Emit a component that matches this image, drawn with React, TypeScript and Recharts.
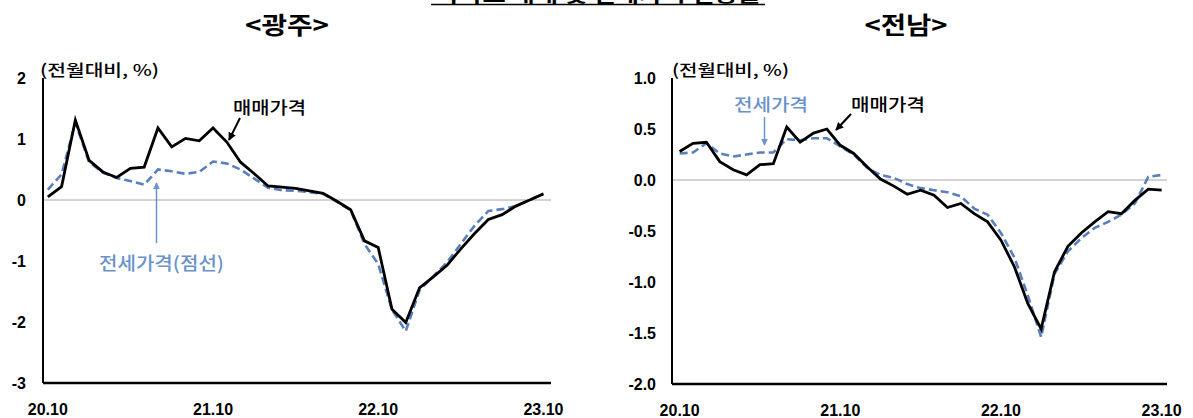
import { LineChart, Line, XAxis, YAxis, ReferenceLine } from 'recharts';

// 20.10 ~ 23.10, monthly
const months = [
  '20.10', '20.11', '20.12', '21.01', '21.02', '21.03', '21.04', '21.05', '21.06', '21.07', '21.08', '21.09',
  '21.10', '21.11', '21.12', '22.01', '22.02', '22.03', '22.04', '22.05', '22.06', '22.07', '22.08', '22.09',
  '22.10', '22.11', '22.12', '23.01', '23.02', '23.03', '23.04', '23.05', '23.06', '23.07', '23.08', '23.09',
  '23.10',
];
const xTicks = [0, 12, 24, 36];

// 광주 (전월대비, %)
const gwangjuSale = [
  0.05, 0.22, 1.31, 0.65, 0.46, 0.37, 0.52, 0.54, 1.18, 0.87, 1.01, 0.97,
  1.18, 0.95, 0.62, 0.43, 0.23, 0.21, 0.19, 0.15, 0.11, -0.02, -0.16, -0.67,
  -0.78, -1.79, -2.01, -1.44, -1.26, -1.07, -0.8, -0.55, -0.32, -0.24, -0.1, 0.0,
  0.1,
];
const gwangjuJeonse = [
  0.17, 0.42, 1.27, 0.62, 0.45, 0.36, 0.31, 0.25, 0.5, 0.47, 0.43, 0.46,
  0.63, 0.6, 0.5, 0.35, 0.2, 0.16, 0.15, 0.13, 0.1, -0.03, -0.17, -0.72,
  -1.05, -1.8, -2.15, -1.48, -1.25, -1.02, -0.72, -0.42, -0.18, -0.15, -0.1, 0.0,
  0.1,
];

// 전남 (전월대비, %)
const jeonnamSale = [
  0.28, 0.36, 0.37, 0.18, 0.1, 0.05, 0.15, 0.16, 0.52, 0.37, 0.46, 0.5,
  0.34, 0.26, 0.13, 0.01, -0.06, -0.14, -0.1, -0.15, -0.27, -0.23, -0.33, -0.41,
  -0.59, -0.85, -1.21, -1.46, -0.9, -0.65, -0.52, -0.41, -0.31, -0.33, -0.2, -0.09,
  -0.1,
];
const jeonnamJeonse = [
  0.26, 0.27, 0.36, 0.26, 0.23, 0.25, 0.27, 0.27, 0.4, 0.39, 0.41, 0.41,
  0.33, 0.25, 0.12, 0.05, 0.02, -0.04, -0.08, -0.1, -0.12, -0.16, -0.28, -0.34,
  -0.52, -0.76, -1.13, -1.54, -0.92, -0.7, -0.57, -0.47, -0.41, -0.34, -0.23, 0.03,
  0.05,
];

const gwangjuTicks = [2, 1, 0, -1, -2, -3];
const jeonnamTicks = [1, 0.5, 0, -0.5, -1, -1.5, -2];

const SALE = '#000000';
const JEONSE = '#5b7fbd';
const NOTE_BLUE = '#6a92cb';
const KR = '"Noto Sans CJK KR", "Noto Sans", sans-serif';
const NUM = '"Liberation Sans", Arial, sans-serif';

function toRows(sale: number[], jeonse: number[]) {
  return months.map((m, i) => ({ i, month: m, sale: sale[i], jeonse: jeonse[i] }));
}

interface PanelProps {
  rows: { i: number; month: string; sale: number; jeonse: number }[];
  width: number;
  margin: { top: number; right: number; bottom: number; left: number };
  xDomain: [number, number];
  yDomain: [number, number];
  yTicks: number[];
  yWidth: number;
  yTickMargin: number;
  fmt: (v: number) => string;
}

function Panel({ rows, width, margin, xDomain, yDomain, yTicks, yWidth, yTickMargin, fmt }: PanelProps) {
  const tickStyle = { fontSize: 16, fontWeight: 700, fill: '#000', fontFamily: NUM };
  const frame = { stroke: '#000', strokeWidth: 2 };
  return (
    <LineChart width={width} height={418} data={rows} margin={margin}>
      <XAxis
        xAxisId="b"
        dataKey="i"
        type="number"
        domain={xDomain}
        allowDataOverflow
        ticks={xTicks}
        interval={0}
        tickFormatter={(v) => months[v]}
        tick={tickStyle}
        tickLine={false}
        tickMargin={15}
        height={30}
        axisLine={{ stroke: '#000', strokeWidth: 2.5 }}
      />
      <XAxis
        xAxisId="t"
        orientation="top"
        dataKey="i"
        type="number"
        domain={xDomain}
        allowDataOverflow
        tick={false}
        tickLine={false}
        height={0}
        axisLine={frame}
      />
      <YAxis
        yAxisId="l"
        domain={yDomain}
        ticks={yTicks}
        interval={0}
        allowDataOverflow
        tickFormatter={fmt}
        tick={tickStyle}
        tickLine={false}
        tickMargin={yTickMargin}
        width={yWidth}
        axisLine={frame}
      />
      <YAxis
        yAxisId="r"
        orientation="right"
        domain={yDomain}
        allowDataOverflow
        tick={false}
        tickLine={false}
        width={0}
        axisLine={frame}
      />
      <ReferenceLine xAxisId="b" yAxisId="l" y={0} stroke="#a6a6a6" strokeWidth={1} />
      <Line
        xAxisId="b"
        yAxisId="l"
        type="linear"
        dataKey="jeonse"
        stroke={JEONSE}
        strokeWidth={2.6}
        strokeDasharray="8 4"
        dot={false}
        isAnimationActive={false}
      />
      <Line
        xAxisId="b"
        yAxisId="l"
        type="linear"
        dataKey="sale"
        stroke={SALE}
        strokeWidth={2.8}
        dot={false}
        isAnimationActive={false}
      />
    </LineChart>
  );
}

function Notes() {
  return (
    <svg width={1193} height={418} style={{ position: 'absolute', left: 0, top: 0, pointerEvents: 'none' }}>
      <defs>
        <marker id="headK" viewBox="0 0 10 10" refX="9" refY="5" markerWidth="8" markerHeight="8" markerUnits="userSpaceOnUse" orient="auto">
          <path d="M0,0 L10,5 L0,10 z" fill="#000" />
        </marker>
        <marker id="headB" viewBox="0 0 10 10" refX="9" refY="5" markerWidth="7" markerHeight="7" markerUnits="userSpaceOnUse" orient="auto">
          <path d="M0,0 L10,5 L0,10 z" fill={NOTE_BLUE} />
        </marker>
      </defs>

      {/* heading cut off at the top edge, only its underline and lowest strokes show */}
      <text x={436} y={1.5} fontFamily={KR} fontWeight={700} fontSize={18} textLength={325} lengthAdjust="spacingAndGlyphs">
        아파트 매매 및 전세가격 변동률
      </text>
      <line x1={431} x2={765} y1={4.5} y2={4.5} stroke="#000" strokeWidth={1.3} />

      <g fontFamily={KR} fontWeight={700} fontSize={24}>
        <text x={287} y={34} textAnchor="middle" textLength={84} lengthAdjust="spacingAndGlyphs">&lt;광주&gt;</text>
        <text x={906} y={34} textAnchor="middle" textLength={83} lengthAdjust="spacingAndGlyphs">&lt;전남&gt;</text>
      </g>

      <g fontFamily={KR} fontWeight={500} fontSize={16}>
        <text x={40} y={76} textLength={119} lengthAdjust="spacingAndGlyphs">(전월대비, %)</text>
        <text x={672} y={76} textLength={117} lengthAdjust="spacingAndGlyphs">(전월대비, %)</text>
      </g>

      {/* 광주 notes */}
      <text x={233} y={114} fontFamily={KR} fontWeight={500} fontSize={17} textLength={73} lengthAdjust="spacingAndGlyphs">매매가격</text>
      <line x1={240} y1={118} x2={229} y2={140} stroke="#000" strokeWidth={2} markerEnd="url(#headK)" />
      <text x={99} y={270} fontFamily={KR} fontWeight={500} fontSize={18} fill={NOTE_BLUE} textLength={125} lengthAdjust="spacingAndGlyphs">전세가격(점선)</text>
      <line x1={156.5} y1={243} x2={156.5} y2={183} stroke={NOTE_BLUE} strokeWidth={1.5} markerEnd="url(#headB)" />

      {/* 전남 notes */}
      <text x={734} y={111} fontFamily={KR} fontWeight={500} fontSize={17} fill={NOTE_BLUE} textLength={74} lengthAdjust="spacingAndGlyphs">전세가격</text>
      <line x1={764.5} y1={117} x2={764.5} y2={145} stroke={NOTE_BLUE} strokeWidth={1.5} markerEnd="url(#headB)" />
      <text x={851} y={111} fontFamily={KR} fontWeight={500} fontSize={17} textLength={74} lengthAdjust="spacingAndGlyphs">매매가격</text>
      <line x1={851} y1={114} x2={836} y2={130} stroke="#000" strokeWidth={2} markerEnd="url(#headK)" />
    </svg>
  );
}

export default function App() {
  return (
    <div style={{ position: 'absolute', left: 0, top: 0, width: 1193, height: 418, background: '#fff', overflow: 'hidden' }}>
      <div style={{ position: 'absolute', left: 0, top: 0 }}>
        <Panel
          rows={toRows(gwangjuSale, gwangjuJeonse)}
          width={590}
          margin={{ top: 78, right: 39, bottom: 5, left: 3 }}
          xDomain={[-0.35, 36.55]}
          yDomain={[-3, 2]}
          yTicks={gwangjuTicks}
          yWidth={40}
          yTickMargin={11}
          fmt={(v) => String(v)}
        />
      </div>
      <div style={{ position: 'absolute', left: 600, top: 0 }}>
        <Panel
          rows={toRows(jeonnamSale, jeonnamJeonse)}
          width={593}
          margin={{ top: 78, right: 26, bottom: 4, left: 22 }}
          xDomain={[-0.57, 36.4]}
          yDomain={[-2, 1]}
          yTicks={jeonnamTicks}
          yWidth={50}
          yTickMargin={10}
          fmt={(v) => v.toFixed(1)}
        />
      </div>
      <Notes />
    </div>
  );
}
